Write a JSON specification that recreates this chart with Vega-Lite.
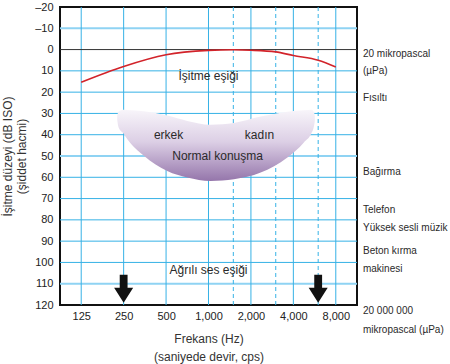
{
  "$schema": "https://vega.github.io/schema/vega-lite/v6.json",
  "width": 297,
  "height": 298,
  "autosize": {"type": "none"},
  "padding": {"left": 60, "top": 7, "right": 93, "bottom": 59},
  "background": "white",
  "config": {
    "font": "Liberation Sans",
    "view": {"stroke": "#111", "strokeWidth": 2},
    "axis": {"grid": false, "ticks": false, "domain": false, "labelColor": "#222", "labelFontSize": 11, "labelOverlap": false, "titleFontWeight": "normal", "titleColor": "#333", "titleFontSize": 12, "labelFont": "Liberation Sans", "titleFont": "Liberation Sans"}
  },
  "layer": [
    {
      "data": {"values": [{"db": -10}, {"db": 10}, {"db": 20}, {"db": 30}, {"db": 40}, {"db": 50}, {"db": 60}, {"db": 70}, {"db": 80}, {"db": 90}, {"db": 100}, {"db": 110}]},
      "mark": {"type": "rule"},
      "encoding": {
        "y": {"field": "db", "type": "quantitative", "scale": {"domain": [-20, 120], "reverse": true, "nice": false, "zero": false},
          "axis": {"values": [-20, -10, 0, 10, 20, 30, 40, 50, 60, 70, 80, 90, 100, 110, 120], "labelOverlap": false, "labelPadding": 7, "labelExpr": "datum.value < 0 ? '–' + abs(datum.value) : datum.label", "title": ["İşitme düzeyi (dB ISO)", "(şiddet hacmi)"], "titleLineHeight": 14, "titlePadding": 6}},
        "color": {"condition": {"test": "indexof([-10, 50, 110], datum.db) >= 0", "value": "#8fd3f3"}, "value": "#36b2e6"},
        "strokeWidth": {"condition": {"test": "indexof([-10, 50, 110], datum.db) >= 0", "value": 2}, "value": 1}
      }
    },
    {
      "data": {"values": [{"f": 125}, {"f": 250}, {"f": 500}, {"f": 1000}, {"f": 2000}, {"f": 4000}, {"f": 8000}]},
      "mark": {"type": "rule", "color": "#36b2e6", "strokeWidth": 1},
      "encoding": {
        "x": {"field": "f", "type": "quantitative", "scale": {"type": "log", "base": 2, "domain": [88.39, 11313.7], "nice": false},
          "axis": {"values": [125, 250, 500, 1000, 2000, 4000, 8000], "format": ",", "labelOverlap": false, "labelPadding": 5, "title": ["Frekans (Hz)", "(saniyede devir, cps)"], "titleLineHeight": 18, "titlePadding": 12}}
      }
    },
    {
      "data": {"values": [{"f": 1500}, {"f": 3000}, {"f": 6000}]},
      "mark": {"type": "rule", "color": "#36b2e6", "strokeWidth": 1, "strokeDash": [4, 3]},
      "encoding": {"x": {"field": "f", "type": "quantitative"}}
    },
    {
      "data": {"values": [{"db": 0}]},
      "mark": {"type": "rule", "color": "#333333", "strokeWidth": 1},
      "encoding": {"y": {"field": "db", "type": "quantitative",
          "axis": {"values": [-20, -10, 0, 10, 20, 30, 40, 50, 60, 70, 80, 90, 100, 110, 120], "labelOverlap": false, "labelPadding": 7, "labelExpr": "datum.value < 0 ? '–' + abs(datum.value) : datum.label", "title": ["İşitme düzeyi (dB ISO)", "(şiddet hacmi)"], "titleLineHeight": 14, "titlePadding": 6}}}
    },
    {
      "data": {"values": [
        {"f": 225, "top": 31, "bottom": 33},
        {"f": 230, "top": 29.2, "bottom": 36.5},
        {"f": 250, "top": 28.3, "bottom": 39.5},
        {"f": 265, "top": 28.4, "bottom": 42},
        {"f": 348, "top": 29, "bottom": 49.9},
        {"f": 510, "top": 31, "bottom": 57},
        {"f": 707, "top": 33.5, "bottom": 60.1},
        {"f": 1035, "top": 35.3, "bottom": 61.7},
        {"f": 1515, "top": 34.5, "bottom": 60.9},
        {"f": 2346, "top": 31.5, "bottom": 57.8},
        {"f": 3630, "top": 29.2, "bottom": 50.7},
        {"f": 4750, "top": 28.5, "bottom": 43.6},
        {"f": 5400, "top": 28.3, "bottom": 39},
        {"f": 5600, "top": 29.5, "bottom": 36},
        {"f": 5680, "top": 31, "bottom": 33.5}
      ]},
      "mark": {"type": "area", "interpolate": "monotone", "color": {"gradient": "linear", "x1": 0, "y1": 0, "x2": 0, "y2": 1, "stops": [{"offset": 0, "color": "#f8f5fa"}, {"offset": 0.45, "color": "#dccfe5"}, {"offset": 1, "color": "#9576ab"}]}},
      "encoding": {
        "x": {"field": "f", "type": "quantitative"},
        "y": {"field": "top", "type": "quantitative",
          "axis": {"values": [-20, -10, 0, 10, 20, 30, 40, 50, 60, 70, 80, 90, 100, 110, 120], "labelOverlap": false, "labelPadding": 7, "labelExpr": "datum.value < 0 ? '–' + abs(datum.value) : datum.label", "title": ["İşitme düzeyi (dB ISO)", "(şiddet hacmi)"], "titleLineHeight": 14, "titlePadding": 6}},
        "y2": {"field": "bottom"}
      }
    },
    {
      "data": {"values": [
        {"f": 125, "db": 15.3}, {"f": 250, "db": 7.9}, {"f": 500, "db": 2.4}, {"f": 1000, "db": 0.4}, {"f": 1500, "db": 0.1}, {"f": 2000, "db": 0.3}, {"f": 3000, "db": 1.1}, {"f": 4000, "db": 2.8}, {"f": 6000, "db": 5.0}, {"f": 8000, "db": 8.2}
      ]},
      "mark": {"type": "line", "interpolate": "monotone", "color": "#d2232a", "strokeWidth": 1.6},
      "encoding": {
        "x": {"field": "f", "type": "quantitative"},
        "y": {"field": "db", "type": "quantitative",
          "axis": {"values": [-20, -10, 0, 10, 20, 30, 40, 50, 60, 70, 80, 90, 100, 110, 120], "labelOverlap": false, "labelPadding": 7, "labelExpr": "datum.value < 0 ? '–' + abs(datum.value) : datum.label", "title": ["İşitme düzeyi (dB ISO)", "(şiddet hacmi)"], "titleLineHeight": 14, "titlePadding": 6}}
      }
    },
    {
      "data": {"values": [
        {"f": 1000, "db": 12.3, "label": "İşitme eşiği"},
        {"f": 1000, "db": 103.4, "label": "Ağrılı ses eşiği"},
        {"f": 521, "db": 40.2, "label": "erkek"},
        {"f": 2300, "db": 40.2, "label": "kadın"},
        {"f": 1160, "db": 50, "label": "Normal konuşma"}
      ]},
      "mark": {"type": "text", "fontSize": 12, "color": "#2a2a2a", "align": "center", "baseline": "middle"},
      "encoding": {
        "x": {"field": "f", "type": "quantitative"},
        "y": {"field": "db", "type": "quantitative",
          "axis": {"values": [-20, -10, 0, 10, 20, 30, 40, 50, 60, 70, 80, 90, 100, 110, 120], "labelOverlap": false, "labelPadding": 7, "labelExpr": "datum.value < 0 ? '–' + abs(datum.value) : datum.label", "title": ["İşitme düzeyi (dB ISO)", "(şiddet hacmi)"], "titleLineHeight": 14, "titlePadding": 6}},
        "text": {"field": "label"}
      }
    },
    {
      "data": {"values": [{"f": 250, "db": 112.4}, {"f": 6000, "db": 112.4}]},
      "mark": {"type": "point", "shape": "M-0.28,-1L0.28,-1L0.28,-0.07L0.68,-0.07L0,1L-0.68,-0.07L-0.28,-0.07Z", "size": 784, "filled": true, "color": "#111111", "opacity": 1, "strokeWidth": 0},
      "encoding": {
        "x": {"field": "f", "type": "quantitative"},
        "y": {"field": "db", "type": "quantitative",
          "axis": {"values": [-20, -10, 0, 10, 20, 30, 40, 50, 60, 70, 80, 90, 100, 110, 120], "labelOverlap": false, "labelPadding": 7, "labelExpr": "datum.value < 0 ? '–' + abs(datum.value) : datum.label", "title": ["İşitme düzeyi (dB ISO)", "(şiddet hacmi)"], "titleLineHeight": 14, "titlePadding": 6}}
      }
    },
    {
      "data": {"values": [
        {"db": 1.9, "label": "20 mikropascal"},
        {"db": 9.9, "label": "(µPa)"},
        {"db": 22.7, "label": "Fısıltı"},
        {"db": 57.6, "label": "Bağırma"},
        {"db": 75.6, "label": "Telefon"},
        {"db": 83.6, "label": "Yüksek sesli müzik"},
        {"db": 94.5, "label": "Beton kırma"},
        {"db": 103, "label": "makinesi"},
        {"db": 122.8, "label": "20 000 000"},
        {"db": 131.8, "label": "mikropascal (µPa)"}
      ]},
      "mark": {"type": "text", "fontSize": 10, "color": "#2a2a2a", "align": "left", "baseline": "middle"},
      "encoding": {
        "x": {"datum": 12470, "type": "quantitative"},
        "y": {"field": "db", "type": "quantitative",
          "axis": {"values": [-20, -10, 0, 10, 20, 30, 40, 50, 60, 70, 80, 90, 100, 110, 120], "labelOverlap": false, "labelPadding": 7, "labelExpr": "datum.value < 0 ? '–' + abs(datum.value) : datum.label", "title": ["İşitme düzeyi (dB ISO)", "(şiddet hacmi)"], "titleLineHeight": 14, "titlePadding": 6}},
        "text": {"field": "label"}
      }
    }
  ]
}
